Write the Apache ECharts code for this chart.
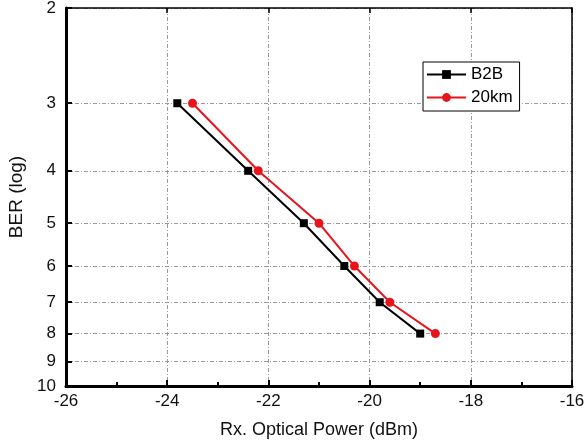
<!DOCTYPE html>
<html><head><meta charset="utf-8">
<script src="https://cdn.jsdelivr.net/npm/echarts@6/dist/echarts.min.js"></script>
<style>html,body{margin:0;padding:0;background:#fff}#c{width:585px;height:442px}</style>
</head><body><div id="c"></div>
<script>
const seriesNames = ['B2B', '20km'];
const b2bPower = [-23.8, -22.4, -21.3, -20.5, -19.8, -19.0];
const b2bBer = [3, 4, 5, 6, 7, 8];
const km20Power = [-23.5, -22.2, -21.0, -20.3, -19.6, -18.7];
const km20Ber = [3, 4, 5, 6, 7, 8];
const yTickLabels = [2, 3, 4, 5, 6, 7, 8, 9, 10];
const xTicks = [-26, -24, -22, -20, -18, -16];

const lg = v => Math.log10(v);
const yTicks = yTickLabels.map(lg);
const font = 'Liberation Sans, Arial, sans-serif';
const grid = {left: 66, right: 13, top: 8, bottom: 56, containLabel: false, outerBoundsMode: 'none'};
const dash = {color: '#9a9a9a', width: 1, type: [4, 2, 1, 2]};
const tickLabelStyle = {fontFamily: font, fontSize: 17, color: '#111'};

const chart = echarts.init(document.getElementById('c'), null, {renderer: 'canvas'});
chart.setOption({
  animation: false,
  grid: grid,
  legend: {
    orient: 'vertical', left: 423, top: 62, padding: [4, 7, 5, 3],
    backgroundColor: '#fff', borderColor: '#000', borderWidth: 1,
    itemWidth: 39, itemHeight: 11, itemGap: 6,
    textStyle: {fontFamily: font, fontSize: 17, color: '#000'},
    data: seriesNames
  },
  xAxis: [{
    type: 'value', min: -26, max: -16, interval: 2,
    name: 'Rx. Optical Power (dBm)', nameLocation: 'middle', nameGap: 35,
    nameTextStyle: {fontFamily: font, fontSize: 18, color: '#111'},
    axisLine: {show: true, onZero: false, lineStyle: {color: '#000', width: 3}},
    axisTick: {show: true, inside: true, length: 6, lineStyle: {color: '#000', width: 2}},
    minorTick: {show: true, splitNumber: 2, length: 4, lineStyle: {color: '#000', width: 2}},
    axisLabel: Object.assign({margin: 7}, tickLabelStyle),
    splitLine: {show: true, lineStyle: dash}
  }, {
    type: 'value', position: 'top', min: -26, max: -16, interval: 2,
    axisLine: {show: true, onZero: false, lineStyle: {color: '#000', width: 1.5}},
    axisTick: {show: true, inside: true, length: 5, lineStyle: {color: '#000', width: 1.5}},
    axisLabel: {show: false}, splitLine: {show: false}
  }],
  yAxis: [{
    type: 'value', inverse: true, min: lg(2), max: lg(10),
    name: 'BER (log)', nameLocation: 'middle', nameGap: 38,
    nameTextStyle: {fontFamily: font, fontSize: 19, color: '#111'},
    axisLine: {show: true, onZero: false, lineStyle: {color: '#000', width: 3}},
    axisTick: {show: true, inside: true, length: 6, customValues: yTicks, lineStyle: {color: '#000', width: 2}},
    axisLabel: Object.assign({margin: 10, customValues: yTicks,
      formatter: v => String(Math.round(Math.pow(10, v)))}, tickLabelStyle),
    splitLine: {show: true, lineStyle: dash}
  }, {
    type: 'value', position: 'right', inverse: true, min: lg(2), max: lg(10),
    axisLine: {show: true, onZero: false, lineStyle: {color: '#000', width: 1.5}},
    axisTick: {show: false}, axisLabel: {show: false}, splitLine: {show: false}
  }],
  series: [{
    name: seriesNames[0], type: 'line',
    data: b2bPower.map((x, i) => [x, lg(b2bBer[i])]),
    symbol: 'rect', symbolSize: 8,
    itemStyle: {color: '#000'}, lineStyle: {color: '#000', width: 2}, z: 3
  }, {
    name: seriesNames[1], type: 'line',
    data: km20Power.map((x, i) => [x, lg(km20Ber[i])]),
    symbol: 'circle', symbolSize: 9,
    itemStyle: {color: '#e8141b'}, lineStyle: {color: '#e8141b', width: 2}, z: 2
  }]
});
</script></body></html>
